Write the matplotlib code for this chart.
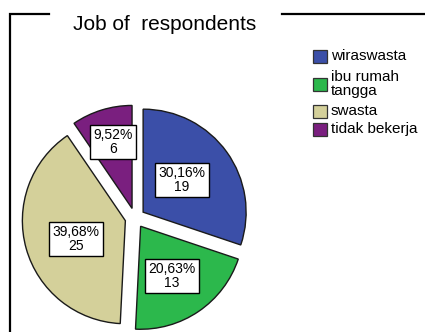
import matplotlib
matplotlib.use('Agg')
import matplotlib.pyplot as plt

plt.rcParams['font.family'] = ['Liberation Sans', 'DejaVu Sans']

jobs = ['wiraswasta', 'ibu rumah\ntangga', 'swasta', 'tidak bekerja']
counts = [19, 13, 25, 6]
colors = ['#3B4FA8', '#2CB84C', '#D4D09A', '#7A1F7F']

total = sum(counts)
W, H = 425, 332

fig = plt.figure(figsize=(W / 100, H / 100), dpi=100)
# one axes over the whole figure, working in pixel units (y measured from top)
ax = fig.add_axes([0, 0, 1, 1])


def Y(py):
    return H - py


wedges, _ = ax.pie(counts, colors=colors, startangle=90, counterclock=False,
                   center=(135, Y(218)), radius=103, explode=[10] * len(counts),
                   wedgeprops=dict(edgecolor='#1a1a1a', linewidth=1.0))
ax.set_xlim(0, W)
ax.set_ylim(0, H)
ax.set_aspect('auto')
ax.axis('off')

# frame broken by title
ax.plot([10, 10, 49], [Y(334), Y(14), Y(14)], color='black', lw=1.6,
        solid_joinstyle='miter', clip_on=False)
ax.plot([282, 430], [Y(14), Y(14)], color='black', lw=1.6, clip_on=False)
ax.text(165, Y(24), 'Job of  respondents', ha='center', va='center', fontsize=15)

# value labels
label_pos = [(182, 180), (172, 276), (76, 239), (113, 142)]
for c, (px, py) in zip(counts, label_pos):
    pct = f'{c / total * 100:.2f}%'.replace('.', ',')
    ax.text(px, Y(py), f'{pct}\n{c}', ha='center', va='center',
            fontsize=10, linespacing=0.95,
            bbox=dict(boxstyle='square,pad=0.25', fc='white', ec='black', lw=1.0))

# legend
legend_y = [56.5, 84, 111, 129]
for name, col, ly in zip(jobs, colors, legend_y):
    ax.add_patch(plt.Rectangle((313, Y(ly) - 6.5), 14, 13, fc=col,
                               ec='#333333', lw=0.9))
    ax.text(331, Y(ly), name, ha='left', va='center', fontsize=11,
            linespacing=0.95)

fig.savefig('out.png', dpi=100)
